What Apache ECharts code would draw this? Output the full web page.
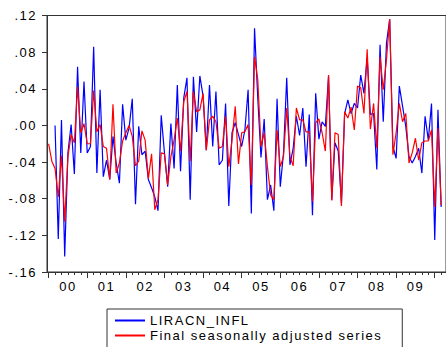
<!DOCTYPE html>
<html>
<head>
<meta charset="utf-8">
<script src="https://cdn.jsdelivr.net/npm/echarts@6/dist/echarts.min.js"></script>
<style>
html,body{margin:0;padding:0;background:#fff;}
#c{width:446px;height:347px;letter-spacing:1.5px;}
</style>
</head>
<body>
<div id="c"></div>
<script>
// Monthly observations, Jan 2000 .. Mar 2010 (plus one empty slot for the frame edge)
const startYear = 2000;
const nSlots = 124;
const yearLabels = ["00","01","02","03","04","05","06","07","08","09"];
const yTicks = [-0.16, -0.12, -0.08, -0.04, 0.00, 0.04, 0.08, 0.12];

const liracnInfl = [
 null, null, 0.000, -0.124, 0.006, -0.143, -0.030, 0.001, -0.053, 0.064, -0.030, 0.048,
 -0.030, -0.023, 0.086, -0.052, 0.039, -0.056, -0.038, -0.059, -0.012, -0.041, -0.063, 0.023,
 -0.016, -0.003, 0.029, -0.086, -0.001, -0.032, -0.028, -0.059, -0.068, -0.078, -0.093, 0.011,
 -0.030, -0.067, 0.002, -0.047, 0.044, -0.050, 0.030, 0.052, -0.081, 0.053, -0.007, 0.054,
 0.032, -0.027, 0.044, -0.023, 0.037, -0.043, -0.038, 0.024, -0.088, -0.008, 0.003, -0.010,
 -0.023, -0.005, 0.039, -0.096, 0.106, 0.030, -0.035, 0.007, -0.081, -0.065, -0.093, 0.029,
 -0.067, -0.030, 0.052, -0.043, -0.025, 0.010, -0.011, 0.019, -0.045, 0.012, -0.098, 0.035,
 -0.015, 0.004, -0.001, 0.054, -0.081, -0.019, -0.028, -0.085, 0.013, 0.028, 0.013, 0.024,
 0.019, 0.055, 0.035, 0.074, 0.012, 0.013, -0.048, 0.088, 0.004, 0.090, 0.116, -0.023,
 -0.036, 0.043, 0.021, -0.001, -0.034, -0.041, -0.034, -0.025, -0.052, 0.010, -0.016, 0.024,
 -0.125, 0.017, -0.089
];

const seasAdj = [
 -0.020, -0.039, -0.047, -0.078, -0.033, -0.105, -0.034, -0.010, -0.019, 0.042, -0.008, 0.002,
 -0.020, -0.020, 0.038, -0.007, 0.001, -0.023, -0.025, -0.059, 0.023, -0.052, -0.041, -0.017,
 -0.008, 0.000, -0.012, -0.044, -0.039, -0.006, -0.016, -0.058, -0.031, -0.092, -0.081, -0.030,
 -0.031, -0.065, -0.034, -0.016, 0.008, -0.028, 0.026, 0.037, -0.039, 0.037, 0.015, 0.017,
 0.035, -0.027, 0.006, 0.010, 0.004, -0.025, -0.023, 0.010, -0.045, -0.016, 0.021, -0.042,
 -0.008, -0.007, 0.001, -0.065, 0.075, 0.050, -0.023, -0.008, -0.045, -0.076, -0.081, -0.005,
 -0.045, -0.034, 0.019, -0.034, -0.044, 0.019, 0.006, 0.006, -0.007, -0.007, -0.083, 0.003,
 0.007, -0.008, -0.028, 0.055, -0.082, -0.008, -0.010, -0.088, 0.015, 0.008, 0.020, -0.005,
 0.043, 0.041, 0.013, 0.083, -0.004, 0.024, -0.025, 0.075, 0.039, 0.072, 0.116, -0.032,
 -0.008, 0.024, 0.004, 0.013, -0.041, -0.030, -0.014, -0.038, -0.019, -0.017, -0.017, -0.005,
 -0.089, -0.003, -0.087
];

const months = [];
for (let i = 0; i < nSlots; i++) {
  const y = startYear + Math.floor(i / 12);
  const m = (i % 12) + 1;
  months.push(y + "-" + (m < 10 ? "0" + m : m));
}

const FONT = "'Liberation Sans', Arial, sans-serif";
const chart = echarts.init(document.getElementById('c'), null, {renderer: 'svg'});

function fmtY(v) {
  const r = Math.round(v * 100) / 100;
  let s = Math.abs(r).toFixed(2).replace(/^0/, '');
  return (r < 0 ? '-' : '') + s;
}

chart.setOption({
  animation: false,
  backgroundColor: '#fff',
  grid: {
    left: 47, width: 401, top: 15.5, bottom: 75,
    show: true, borderColor: '#333', borderWidth: 1, backgroundColor: 'transparent'
  },
  xAxis: [
    {
      type: 'category', data: months, boundaryGap: true, position: 'bottom',
      axisLine: {show: true, onZero: false, lineStyle: {color: '#333', width: 1}},
      axisTick: {show: true, length: 3, alignWithLabel: true, lineStyle: {color: '#333'},
        interval: function (i) { return i % 2 === 0; }},
      axisLabel: {
        show: true, margin: 8, color: '#000', fontFamily: FONT, fontSize: 13,
        interval: function (i) { return i % 12 === 6 && Math.floor(i / 12) < yearLabels.length; },
        formatter: function (val, i) { return yearLabels[Math.floor(i / 12)] || ''; }
      },
      splitLine: {show: false}
    },
    {
      type: 'category', data: months, boundaryGap: true, position: 'bottom', offset: 0,
      axisLine: {show: false, onZero: false},
      axisTick: {show: true, length: 6, alignWithLabel: true, lineStyle: {color: '#333'},
        interval: function (i) { return i % 12 === 0; }},
      axisLabel: {show: false},
      splitLine: {show: false}
    }
  ],
  yAxis: {
    type: 'value', min: yTicks[0], max: yTicks[yTicks.length - 1], interval: 0.04,
    axisLine: {show: true, lineStyle: {color: '#333', width: 1}},
    axisTick: {show: true, length: 5, lineStyle: {color: '#333'}},
    axisLabel: {margin: 10, color: '#000', fontFamily: FONT, fontSize: 13, formatter: fmtY},
    splitLine: {show: false}
  },
  legend: {
    orient: 'vertical', left: 107, top: 309, height: 60, width: 300,
    padding: [5, 68, 14, 7],
    itemWidth: 30, itemHeight: 14, itemGap: 2,
    borderColor: '#333', borderWidth: 1, backgroundColor: '#fff',
    itemStyle: {opacity: 0, borderWidth: 0},
    textStyle: {color: '#000', fontFamily: FONT, fontSize: 13},
    data: ['LIRACN_INFL', 'Final seasonally adjusted series']
  },
  series: [
    {
      name: 'LIRACN_INFL', type: 'line', xAxisIndex: 0, data: liracnInfl,
      symbol: 'none', showSymbol: false, connectNulls: false,
      lineStyle: {color: '#0000ff', width: 1.2}, itemStyle: {color: '#0000ff'}, z: 2
    },
    {
      name: 'Final seasonally adjusted series', type: 'line', xAxisIndex: 0, data: seasAdj,
      symbol: 'none', showSymbol: false,
      lineStyle: {color: '#ff0000', width: 1.2}, itemStyle: {color: '#ff0000'}, z: 3
    }
  ]
});
</script>
</body>
</html>
